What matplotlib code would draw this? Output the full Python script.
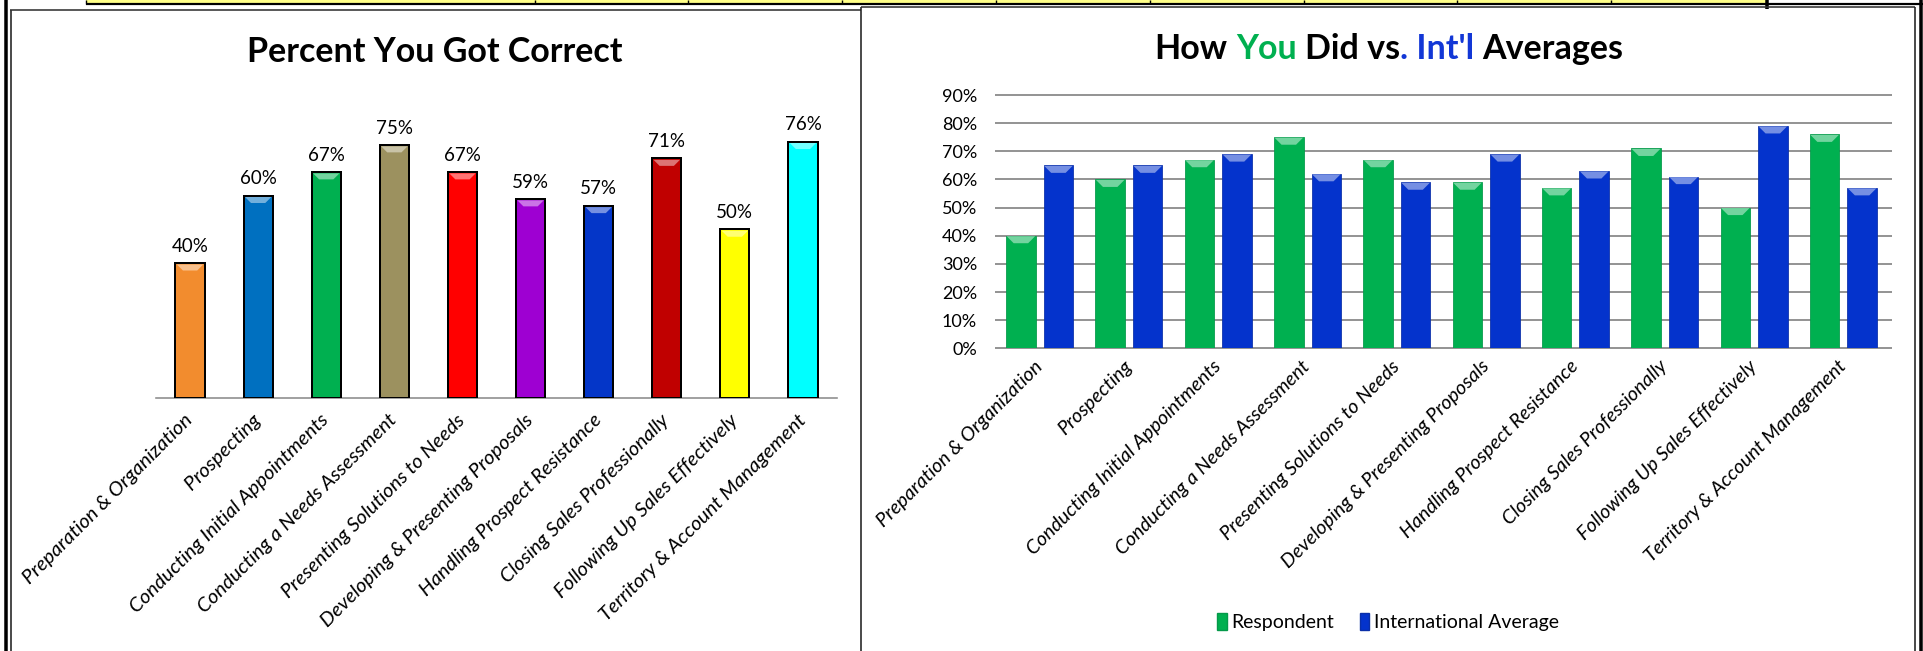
import matplotlib
matplotlib.use("Agg")
import matplotlib.pyplot as plt
from matplotlib.patches import Polygon, Patch, Rectangle
from matplotlib.lines import Line2D
from matplotlib.transforms import IdentityTransform
from matplotlib.colors import to_rgb
import numpy as np

# ---------------- data ----------------
categories = [
    "Preparation & Organization",
    "Prospecting",
    "Conducting Initial Appointments",
    "Conducting a Needs Assessment",
    "Presenting Solutions to Needs",
    "Developing & Presenting Proposals",
    "Handling Prospect Resistance",
    "Closing Sales Professionally",
    "Following Up Sales Effectively",
    "Territory & Account Management",
]
respondent = [0.40, 0.60, 0.67, 0.75, 0.67, 0.59, 0.57, 0.71, 0.50, 0.76]
intl_average = [0.65, 0.65, 0.69, 0.62, 0.59, 0.69, 0.63, 0.61, 0.79, 0.57]
left_colors = ["#F28C2E", "#0070C0", "#00B050", "#9C915F", "#FF0000",
               "#9E00D2", "#0436C8", "#C00000", "#FFFF00", "#00FFFF"]
y_ticks = [0.0, 0.1, 0.2, 0.3, 0.4, 0.5, 0.6, 0.7, 0.8, 0.9]
series_names = ["Respondent", "International Average"]
GREEN = "#00B050"
BLUE = "#0433CC"
TITLE_BLUE = "#1237D6"

FONT = "Lato"
plt.rcParams["font.family"] = [FONT, "DejaVu Sans"]

W, H, DPI = 1923, 651, 100
fig = plt.figure(figsize=(W / DPI, H / DPI), dpi=DPI)
fig.patch.set_facecolor("white")


def fr(x0, y_top, x1, y_bottom):
    return [x0 / W, 1 - y_bottom / H, (x1 - x0) / W, (y_bottom - y_top) / H]


def px(lw):
    return lw * 72.0 / DPI


# ---------------- frame decorations ----------------
def fline(xs, ys, lw, color="black", z=10):
    fig.add_artist(Line2D([x / W for x in xs], [1 - y / H for y in ys],
                          transform=fig.transFigure, lw=px(lw), color=color,
                          zorder=z, solid_capstyle="butt"))

# top strip (table row edge)
fig.add_artist(Rectangle((86 / W, 1 - 3 / H), (1766 - 86) / W, 3 / H,
                         transform=fig.transFigure, facecolor="#FFFF88",
                         edgecolor="none", zorder=9))
fline([86, 1923], [3.5, 3.5], 2.2)
for xd in [86, 535, 688, 842, 996, 1150, 1304, 1457, 1611]:
    fline([xd, xd], [0, 3.5], 1.4)
fline([1767, 1767], [0, 9], 3.5)

# left panel borders
fline([6, 6], [0, H], 3.5)
fline([10.5, 10.5], [9.5, H], 1.6, "#222222")
fline([10, 861], [9.5, 9.5], 1.6, "#333333")
# right panel borders
fline([861, 861], [7, H], 1.6, "#222222")
fline([861, 1915], [7, 7], 1.6, "#333333")
fline([1915, 1915], [7, H], 1.6, "#222222")
fline([1920.5, 1920.5], [0, H], 3.5)


def add_bevel(ax, bars, depth=7, amt=0.45, inset=1.0):
    for b in bars:
        (x0, y0), (x1, y1) = ax.transData.transform(
            [(b.get_x(), 0), (b.get_x() + b.get_width(), b.get_height())])
        x0 += inset
        x1 -= inset
        y1 -= inset
        fc = np.array(to_rgb(b.get_facecolor()))
        light = fc + (1 - fc) * amt
        poly = Polygon([(x0, y1), (x1, y1), (x1 - depth, y1 - depth),
                        (x0 + depth, y1 - depth)], closed=True,
                       transform=IdentityTransform(), facecolor=light,
                       edgecolor="none", zorder=4)
        ax.add_patch(poly)


x = np.arange(len(categories))

# ---------------- left chart ----------------
axL = fig.add_axes(fr(156, 60.5, 837, 398))
barsL = axL.bar(x, respondent, width=0.43, color=left_colors,
                edgecolor="black", linewidth=px(2.0), zorder=3)
axL.set_xlim(-0.5, 9.5)
axL.set_ylim(0, 1.0)
for s in ["top", "right", "left"]:
    axL.spines[s].set_visible(False)
axL.spines["bottom"].set_color("#8C8C8C")
axL.spines["bottom"].set_linewidth(px(1.6))
axL.set_yticks([])
axL.set_xticks(x)
axL.set_xticklabels(categories, rotation=45, ha="right", va="center",
                    rotation_mode="anchor", fontsize=14.6, style="italic")
axL.tick_params(axis="x", length=0, pad=14)
for b, v in zip(barsL, respondent):
    axL.annotate(f"{round(v * 100)}%", xy=(b.get_x() + b.get_width() / 2, v),
                 xytext=(0, 6), textcoords="offset points", ha="center",
                 va="bottom", fontsize=13.5)
add_bevel(axL, barsL, depth=6, inset=1.5)

fig.text(435 / W, 1 - 51.5 / H, "Percent You Got Correct", ha="center",
         va="center", fontsize=24.5, fontweight="bold")

# ---------------- right chart ----------------
axR = fig.add_axes(fr(995, 95, 1888, 348.3))
bw, off = 0.33, 0.21
barsR1 = axR.bar(x - off, respondent, bw, color=GREEN, edgecolor="#05994A",
                 linewidth=px(0.8), zorder=3)
barsR2 = axR.bar(x + off, intl_average, bw, color=BLUE, edgecolor="#0A2FA8",
                 linewidth=px(0.8), zorder=3)
axR.set_xlim(-0.5, 9.5)
axR.set_ylim(0, 0.9)
axR.hlines(y_ticks, -0.5, 9.55, colors="#8A8A8A", lw=px(1.8), zorder=1,
           clip_on=False)
for s in axR.spines.values():
    s.set_visible(False)
axR.set_yticks(y_ticks)
axR.set_yticklabels([f"{round(t * 100)}%" for t in y_ticks], fontsize=13)
axR.tick_params(axis="y", length=0, pad=13)
axR.set_xticks(x)
axR.set_xticklabels(categories, rotation=45, ha="right", va="center",
                    rotation_mode="anchor", fontsize=14.2, style="italic")
axR.tick_params(axis="x", length=0, pad=11)
add_bevel(axR, barsR1, depth=7, inset=0.5)
add_bevel(axR, barsR2, depth=7, inset=0.5)

handles = [Patch(facecolor=GREEN, edgecolor="#05994A"),
           Patch(facecolor=BLUE, edgecolor="#0A2FA8")]
fig.legend(handles, series_names, loc="center",
           bbox_to_anchor=(1388 / W, 1 - 622 / H), ncol=2, frameon=False,
           fontsize=14, handlelength=0.5, handleheight=1.0,
           handletextpad=0.25, columnspacing=1.3)

# multi-coloured title
pieces = [("How ", "black"), ("You", GREEN), (" Did vs", "black"),
          (". Int'l", TITLE_BLUE), (" Averages", "black")]
renderer = fig.canvas.get_renderer()
tkw = dict(fontsize=24.5, fontweight="bold")


def text_w(s):
    t = fig.text(0, 0, s, **tkw)
    w = t.get_window_extent(renderer).width
    t.remove()
    return w


full = "".join(p for p, _ in pieces)
total = text_w(full + "x") - text_w("x")
start = 1389 - total / 2
prefix = ""
for s, c in pieces:
    lead = len(s) - len(s.lstrip(" "))
    off_px = text_w(prefix + s[:lead] + "x") - text_w("x") if (prefix + s[:lead]) else 0
    fig.text((start + off_px) / W, 1 - 49 / H, s.strip(" "), color=c,
             ha="left", va="center", **tkw)
    prefix += s

fig.savefig("out.png", dpi=DPI, facecolor="white")
